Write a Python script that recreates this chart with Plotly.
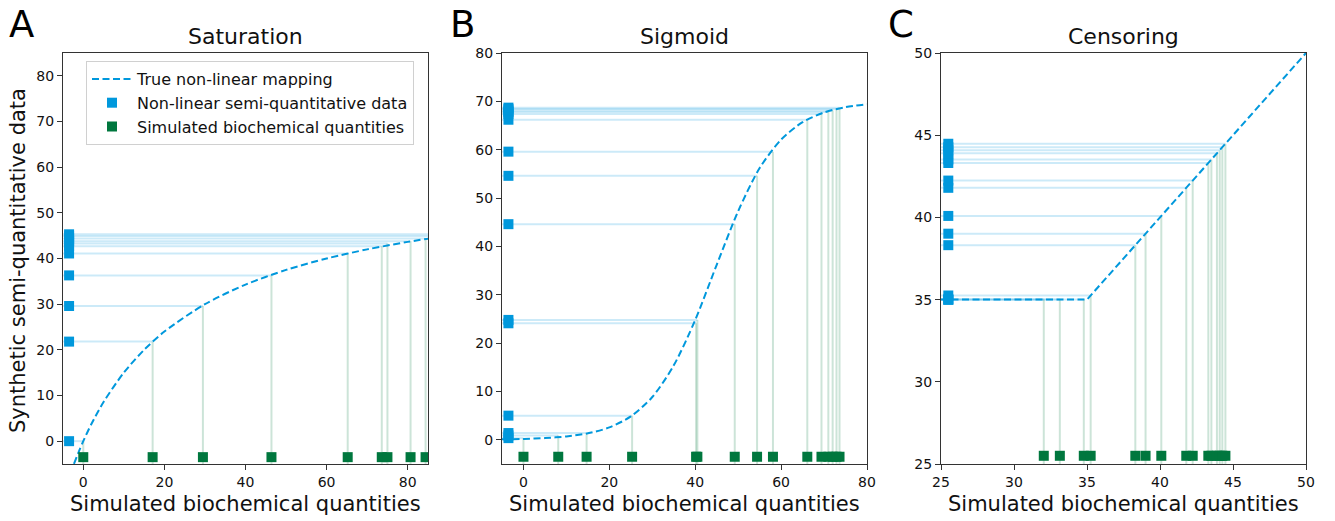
import plotly.graph_objects as go

# ---------------- data ----------------
# Panel A: Saturation
sat_x = [0.0, 17.1, 29.5, 46.4, 65.2, 73.6, 75.0, 80.7, 84.4, 89.0, 92.5]
sat_y = [0.0, 21.8, 29.6, 36.3, 41.1, 42.7, 43.3, 43.8, 44.4, 44.9, 45.3]
sat_curve_x = [-2.3, -1, 0, 2, 5, 10, 15, 20, 30, 40, 50, 60, 70, 80, 90]
sat_curve_y = [-4.98, -2.07, 0, 3.75, 8.57, 15.0, 20.0, 24.0, 30.0, 34.29, 37.5, 40.0, 42.0, 43.64, 45.0]

# Panel B: Sigmoid
sig_x = [0.0, 8.1, 14.7, 25.3, 40.2, 40.5, 49.2, 54.4, 58.1, 66.1, 69.4, 71.0, 72.0, 72.9, 73.6]
sig_y = [0.35, 0.9, 1.4, 5.0, 24.1, 24.8, 44.6, 54.6, 59.6, 66.2, 67.4, 67.8, 68.1, 68.4, 68.7]
sig_curve_x = [-5, 0, 5, 10, 15, 20, 25, 30, 35, 40, 45, 50, 55, 60, 65, 70, 75, 80]
sig_curve_y = [0.1, 0.19, 0.36, 0.70, 1.34, 2.57, 4.84, 8.85, 15.4, 24.8, 36.2, 47.3, 56.2, 62.1, 65.7, 67.7, 68.8, 69.4]

# Panel C: Censoring
cen_x = [32.04, 33.14, 34.78, 35.25, 38.31, 39.01, 40.09, 41.8, 42.24, 43.31, 43.52, 43.9, 44.09, 44.27, 44.48]
cen_y = [35.0, 35.0, 35.0, 35.25, 38.31, 39.01, 40.09, 41.8, 42.24, 43.31, 43.52, 43.9, 44.09, 44.27, 44.48]
cen_curve_x = [25, 35, 50]
cen_curve_y = [35, 35, 50]

titles = ["Saturation", "Sigmoid", "Censoring"]
letters = ["A", "B", "C"]
x_ranges = [[-5, 85], [-5, 80], [25, 50]]
y_ranges = [[-5, 85], [-5, 80], [25, 50]]
x_ticks = [[0, 20, 40, 60, 80], [0, 20, 40, 60, 80], [25, 30, 35, 40, 45, 50]]
y_ticks = [[0, 10, 20, 30, 40, 50, 60, 70, 80], [0, 10, 20, 30, 40, 50, 60, 70, 80], [25, 30, 35, 40, 45, 50]]
marker_offset = [1.5, 1.5, 0.5]

BLUE = "#0098DC"
GREEN = "#00773E"
HLINE = "rgba(0,152,220,0.2)"
VLINE = "rgba(0,119,62,0.2)"
FONT = "DejaVu Sans"

W, H = 1335, 521


def px(p):
    return p / W


def py(p):
    return 1 - p / H


x_doms = [[px(63), px(428)], [px(502), px(867)], [px(941), px(1306)]]
y_dom = [py(464), py(53)]

panels = [
    (sat_x, sat_y, sat_curve_x, sat_curve_y),
    (sig_x, sig_y, sig_curve_x, sig_curve_y),
    (cen_x, cen_y, cen_curve_x, cen_curve_y),
]

fig = go.Figure()
annotations = []

for i, (dx, dy, cx, cy) in enumerate(panels):
    xa = "x" if i == 0 else f"x{i+1}"
    ya = "y" if i == 0 else f"y{i+1}"
    xmin = x_ranges[i][0]
    ymin = y_ranges[i][0]
    mx = xmin + marker_offset[i]
    my = ymin + marker_offset[i]
    first = i == 0

    # horizontal guide lines
    hx, hy = [], []
    for a, b in zip(dx, dy):
        hx += [xmin, a, None]
        hy += [b, b, None]
    fig.add_trace(go.Scatter(x=hx, y=hy, mode="lines", line=dict(color=HLINE, width=2),
                             xaxis=xa, yaxis=ya, showlegend=False, hoverinfo="skip"))
    # vertical guide lines
    vx, vy = [], []
    for a, b in zip(dx, dy):
        vx += [a, a, None]
        vy += [ymin, b, None]
    fig.add_trace(go.Scatter(x=vx, y=vy, mode="lines", line=dict(color=VLINE, width=2),
                             xaxis=xa, yaxis=ya, showlegend=False, hoverinfo="skip"))
    # true mapping
    fig.add_trace(go.Scatter(x=cx, y=cy, mode="lines",
                             line=dict(color=BLUE, width=2, dash="7px,3.5px",
                                       shape="spline" if i < 2 else "linear", smoothing=0.8),
                             name="True non-linear mapping", xaxis=xa, yaxis=ya,
                             showlegend=first, legendrank=1))
    # semi-quantitative markers (on y axis)
    fig.add_trace(go.Scatter(x=[mx] * len(dy), y=dy, mode="markers",
                             marker=dict(symbol="square", size=10, color=BLUE,
                                         line=dict(width=0)),
                             name="Non-linear semi-quantitative data", xaxis=xa, yaxis=ya,
                             showlegend=first, legendrank=2, cliponaxis=True))
    # biochemical markers (on x axis)
    fig.add_trace(go.Scatter(x=dx, y=[my] * len(dx), mode="markers",
                             marker=dict(symbol="square", size=10, color=GREEN,
                                         line=dict(width=0)),
                             name="Simulated biochemical quantities", xaxis=xa, yaxis=ya,
                             showlegend=first, legendrank=3, cliponaxis=True))

    axis_common = dict(showgrid=False, zeroline=False, showline=True, mirror=True,
                       linecolor="#333333", linewidth=1.2, ticks="outside", ticklen=5,
                       tickwidth=1.2, tickcolor="#333333", automargin=False,
                       tickfont=dict(family=FONT, size=14, color="#111111"))
    fig.update_layout(**{
        ("xaxis" if i == 0 else f"xaxis{i+1}"): dict(domain=x_doms[i], range=x_ranges[i],
                                                      tickvals=x_ticks[i], anchor=ya,
                                                      **axis_common),
        ("yaxis" if i == 0 else f"yaxis{i+1}"): dict(domain=y_dom, range=y_ranges[i],
                                                      tickvals=y_ticks[i], anchor=xa,
                                                      **axis_common),
    })

    cxp = (x_doms[i][0] + x_doms[i][1]) / 2
    annotations.append(dict(text=titles[i], x=cxp, y=py(36), xref="paper", yref="paper",
                            showarrow=False, font=dict(family=FONT, size=22, color="#111111"),
                            xanchor="center", yanchor="middle"))
    annotations.append(dict(text="Simulated biochemical quantities", x=cxp, y=py(504),
                            xref="paper", yref="paper", showarrow=False,
                            font=dict(family=FONT, size=21, color="#111111"),
                            xanchor="center", yanchor="middle"))
    annotations.append(dict(text=letters[i], x=px([21, 462, 901][i]), y=py(0.5),
                            xref="paper", yref="paper", showarrow=False,
                            font=dict(family=FONT, size=37, color="#000000"),
                            xanchor="center", yanchor="top"))

annotations.append(dict(text="Synthetic semi-quantitative data", x=px(18), y=py(261),
                        xref="paper", yref="paper", showarrow=False, textangle=-90,
                        font=dict(family=FONT, size=21, color="#111111"),
                        xanchor="center", yanchor="middle"))

fig.update_layout(
    width=W, height=H,
    margin=dict(l=0, r=0, t=0, b=0, autoexpand=False),
    paper_bgcolor="white", plot_bgcolor="white",
    annotations=annotations,
    legend=dict(x=px(86), y=py(61), xanchor="left", yanchor="top",
                bgcolor="rgba(255,255,255,0.9)", bordercolor="#d0d0d0", borderwidth=1,
                font=dict(family=FONT, size=16, color="#111111"),
                tracegroupgap=0, itemwidth=40),
    font=dict(family=FONT),
)

# remove the browser's default 8px page margin so the figure fills the window
fig.write_html("out.html",
               config={"displayModeBar": False},
               post_script="document.body.style.margin='0';document.body.style.overflow='hidden';")
